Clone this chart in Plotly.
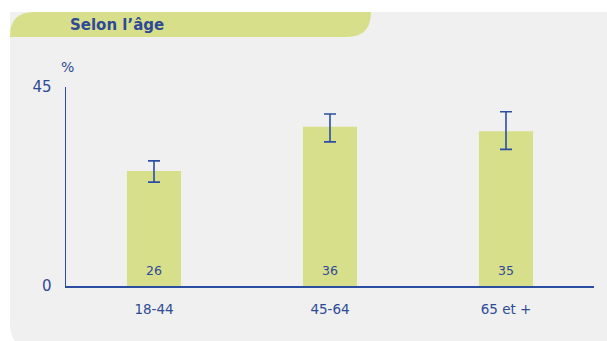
import plotly.graph_objects as go

categories = ["18-44", "45-64", "65 et +"]
values = [26, 36, 35]
err_high = [28.3, 38.9, 39.4]
err_low = [23.5, 32.6, 30.9]
y_ticks = [0, 45]

W, H = 607, 341
PX0, PX1, PY0, PY1 = 66, 594, 87, 286  # plot area in screen px
L, R = PX0, W - PX1
T, B = PY0, H - PY1
pw, ph = PX1 - PX0, PY1 - PY0

def px(x):
    return (x - PX0) / pw

def py(y):
    return (PY1 - y) / ph

TXT = "#2E4A96"
AX = "#2B4EA3"
GREEN = "#D8DF8B"
GRAY = "#F0F0F0"

fig = go.Figure()
fig.add_trace(go.Bar(
    x=categories, y=values,
    marker=dict(color=GREEN, line=dict(width=0)),
    error_y=dict(type="data", symmetric=False,
                 array=[h - v for h, v in zip(err_high, values)],
                 arrayminus=[v - l for l, v in zip(err_low, values)],
                 color=AX, thickness=1.6, width=6),
    hoverinfo="skip",
))

x0, x1, y0, y1, r = 10, 640, 12, 352, 30
gray = (f"M {px(x0)},{py(y0)} L {px(x1)},{py(y0)} L {px(x1)},{py(y1)} "
        f"L {px(x0 + r)},{py(y1)} Q {px(x0)},{py(y1)} {px(x0)},{py(y1 - r)} Z")
hx0, hx1, hy0, hy1, hr = 10, 371, 12, 37, 24
head = (f"M {px(hx0)},{py(hy1)} L {px(hx0)},{py(hy0 + hr)} "
        f"Q {px(hx0)},{py(hy0)} {px(hx0 + hr)},{py(hy0)} "
        f"L {px(hx1)},{py(hy0)} Q {px(hx1)},{py(hy1)} {px(hx1 - hr)},{py(hy1)} Z")

annotations = [
    dict(text="<b>Selon l’âge</b>", x=px(68), y=py(25), xref="paper", yref="paper",
         xanchor="left", yanchor="middle", showarrow=False,
         font=dict(family="DejaVu Sans", size=15, color=TXT)),
    dict(text="%", x=px(67), y=py(67), xref="paper", yref="paper",
         xanchor="center", yanchor="middle", showarrow=False,
         font=dict(family="DejaVu Sans", size=14, color=TXT)),
]
for c, v in zip(categories, values):
    annotations.append(dict(text=str(v), x=c, y=0, xref="x", yref="y",
                            yanchor="bottom", yshift=6, showarrow=False,
                            font=dict(family="DejaVu Sans", size=12.5, color=TXT)))

fig.update_layout(
    width=W, height=H,
    margin=dict(l=L, r=R, t=T, b=B),
    paper_bgcolor="white", plot_bgcolor="rgba(0,0,0,0)",
    showlegend=False,
    bargap=0.693,
    font=dict(family="DejaVu Sans", color=TXT),
    shapes=[
        dict(type="path", path=gray, xref="paper", yref="paper",
             fillcolor=GRAY, line=dict(width=0), layer="below"),
        dict(type="path", path=head, xref="paper", yref="paper",
             fillcolor=GREEN, line=dict(width=0), layer="below"),
    ],
    annotations=annotations,
    xaxis=dict(range=[-0.5, 2.5], showline=True, linecolor=AX, linewidth=1.5,
               showgrid=False, ticks="", tickfont=dict(size=13.5, color=TXT),
               ticklabelstandoff=10, fixedrange=True),
    yaxis=dict(range=[0, 45], tickvals=y_ticks, showline=True, linecolor=AX,
               linewidth=1.5, showgrid=False, zeroline=False, ticks="",
               tickfont=dict(size=15, color=TXT), ticklabelstandoff=10,
               fixedrange=True),
)

fig.write_html("out.html", config={"displayModeBar": False, "staticPlot": True},
               post_script="document.body.style.margin='0';document.body.style.overflow='hidden';")
